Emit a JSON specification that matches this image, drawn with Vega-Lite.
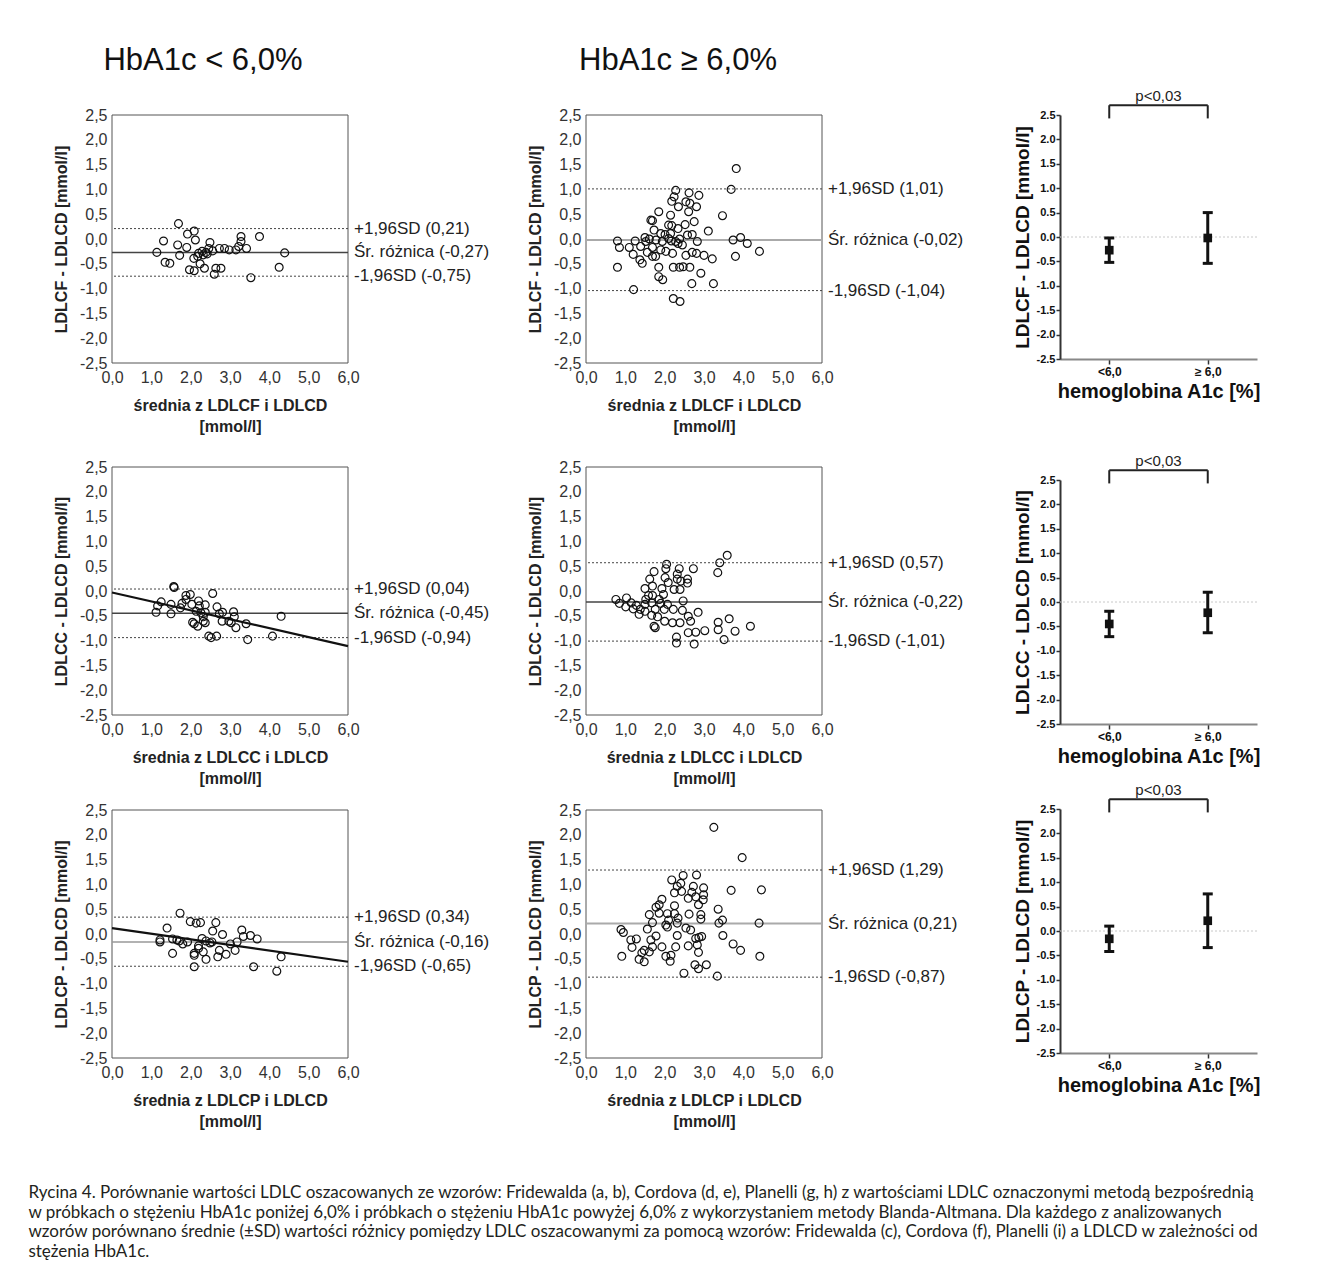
{
"$schema": "https://vega.github.io/schema/vega-lite/v6.json",
"background": "white",
"autosize": {"type": "pad"},
"padding": {"left": 28, "top": 45, "right": 5, "bottom": 5},
"config": {"view": {"stroke": null}, "font": "Liberation Sans", "axis": {"labelOverlap": false}},
"title": {"text": ["Rycina 4. Porównanie wartości LDLC oszacowanych ze wzorów: Fridewalda (a, b), Cordova (d, e), Planelli (g, h) z wartościami LDLC oznaczonymi metodą bezpośrednią", "w próbkach o stężeniu HbA1c poniżej 6,0% i próbkach o stężeniu HbA1c powyżej 6,0% z wykorzystaniem metody Blanda-Altmana. Dla każdego z analizowanych", "wzorów porównano średnie (±SD) wartości różnicy pomiędzy LDLC oszacowanymi za pomocą wzorów: Fridewalda (c), Cordova (f), Planelli (i) a LDLCD w zależności od", "stężenia HbA1c."], "orient": "bottom", "anchor": "start", "frame": "bounds", "align": "left", "baseline": "top", "dx": -25, "offset": 56, "font": "Lato", "fontSize": 17, "fontWeight": "normal", "color": "#231f20", "lineHeight": 19.5},
"datasets": {
"a_pts": [{"m":1.69,"d":0.31},{"m":2.09,"d":0.16},{"m":1.92,"d":0.10},{"m":1.31,"d":-0.04},{"m":1.67,"d":-0.12},{"m":1.90,"d":-0.17},{"m":2.12,"d":-0.02},{"m":1.14,"d":-0.27},{"m":1.35,"d":-0.47},{"m":1.47,"d":-0.49},{"m":1.72,"d":-0.33},{"m":2.08,"d":-0.39},{"m":2.20,"d":-0.29},{"m":2.29,"d":-0.25},{"m":2.39,"d":-0.27},{"m":2.49,"d":-0.07},{"m":2.46,"d":-0.19},{"m":2.56,"d":-0.24},{"m":2.24,"d":-0.50},{"m":1.97,"d":-0.62},{"m":2.09,"d":-0.64},{"m":2.35,"d":-0.59},{"m":2.60,"d":-0.71},{"m":2.64,"d":-0.59},{"m":2.77,"d":-0.59},{"m":2.73,"d":-0.19},{"m":2.86,"d":-0.19},{"m":2.98,"d":-0.22},{"m":3.15,"d":-0.22},{"m":3.22,"d":-0.15},{"m":3.28,"d":0.05},{"m":3.28,"d":-0.05},{"m":3.42,"d":-0.19},{"m":3.75,"d":0.05},{"m":3.53,"d":-0.78},{"m":4.25,"d":-0.57},{"m":4.39,"d":-0.28},{"m":2.32,"d":-0.32},{"m":2.18,"d":-0.35},{"m":2.42,"d":-0.30}],
"b_pts": [{"m":0.80,"d":-0.04},{"m":0.85,"d":-0.17},{"m":0.80,"d":-0.57},{"m":1.10,"d":-0.17},{"m":1.20,"d":-0.31},{"m":1.21,"d":-1.02},{"m":1.25,"d":-0.04},{"m":1.37,"d":-0.42},{"m":1.39,"d":-0.15},{"m":1.43,"d":-0.49},{"m":1.50,"d":0.03},{"m":1.52,"d":-0.05},{"m":1.56,"d":-0.27},{"m":1.61,"d":0.0},{"m":1.65,"d":0.38},{"m":1.69,"d":0.37},{"m":1.69,"d":-0.17},{"m":1.69,"d":-0.35},{"m":1.73,"d":0.18},{"m":1.77,"d":-0.35},{"m":1.78,"d":-0.02},{"m":1.85,"d":0.55},{"m":1.85,"d":-0.57},{"m":1.85,"d":-0.76},{"m":1.90,"d":0.11},{"m":1.90,"d":-0.22},{"m":1.94,"d":-0.05},{"m":1.95,"d":-0.82},{"m":2.01,"d":0.09},{"m":2.03,"d":-0.25},{"m":2.10,"d":0.28},{"m":2.10,"d":0.01},{"m":2.15,"d":0.48},{"m":2.15,"d":0.11},{"m":2.17,"d":-0.04},{"m":2.18,"d":0.76},{"m":2.18,"d":0.27},{"m":2.20,"d":-0.29},{"m":2.22,"d":-0.57},{"m":2.22,"d":-1.20},{"m":2.24,"d":0.85},{"m":2.28,"d":0.98},{"m":2.28,"d":-0.05},{"m":2.34,"d":0.21},{"m":2.34,"d":-0.09},{"m":2.35,"d":0.65},{"m":2.38,"d":0.0},{"m":2.38,"d":-0.57},{"m":2.39,"d":-1.26},{"m":2.45,"d":-0.12},{"m":2.47,"d":-0.56},{"m":2.52,"d":0.29},{"m":2.54,"d":0.75},{"m":2.54,"d":-0.33},{"m":2.58,"d":0.08},{"m":2.61,"d":0.55},{"m":2.62,"d":0.93},{"m":2.64,"d":0.72},{"m":2.64,"d":-0.57},{"m":2.69,"d":-0.90},{"m":2.70,"d":0.09},{"m":2.70,"d":-0.27},{"m":2.75,"d":0.35},{"m":2.81,"d":0.65},{"m":2.81,"d":-0.29},{"m":2.83,"d":-0.05},{"m":2.87,"d":0.88},{"m":2.92,"d":-0.69},{"m":3.00,"d":-0.33},{"m":3.11,"d":0.16},{"m":3.21,"d":-0.40},{"m":3.24,"d":-0.90},{"m":3.47,"d":0.47},{"m":3.69,"d":1.00},{"m":3.74,"d":-0.02},{"m":3.80,"d":-0.35},{"m":3.82,"d":1.42},{"m":3.93,"d":0.03},{"m":4.10,"d":-0.09},{"m":4.41,"d":-0.25}],
"d_pts": [{"m":1.57,"d":0.09},{"m":1.58,"d":0.07},{"m":1.99,"d":-0.07},{"m":1.88,"d":-0.09},{"m":2.56,"d":-0.05},{"m":2.20,"d":-0.20},{"m":1.25,"d":-0.22},{"m":1.50,"d":-0.27},{"m":1.78,"d":-0.25},{"m":2.03,"d":-0.27},{"m":2.37,"d":-0.28},{"m":2.67,"d":-0.32},{"m":1.16,"d":-0.30},{"m":1.12,"d":-0.43},{"m":1.50,"d":-0.46},{"m":1.74,"d":-0.34},{"m":1.88,"d":-0.17},{"m":2.14,"d":-0.41},{"m":2.26,"d":-0.44},{"m":2.37,"d":-0.43},{"m":2.32,"d":-0.52},{"m":2.73,"d":-0.46},{"m":2.81,"d":-0.43},{"m":3.09,"d":-0.42},{"m":3.11,"d":-0.52},{"m":2.97,"d":-0.61},{"m":3.03,"d":-0.64},{"m":2.05,"d":-0.63},{"m":2.09,"d":-0.66},{"m":2.18,"d":-0.71},{"m":2.32,"d":-0.61},{"m":2.37,"d":-0.64},{"m":2.80,"d":-0.61},{"m":3.15,"d":-0.74},{"m":3.41,"d":-0.66},{"m":2.46,"d":-0.91},{"m":2.52,"d":-0.94},{"m":2.66,"d":-0.91},{"m":3.45,"d":-0.98},{"m":4.08,"d":-0.91},{"m":4.30,"d":-0.51},{"m":2.22,"d":-0.30}],
"e_pts": [{"m":3.59,"d":0.72},{"m":3.40,"d":0.57},{"m":3.35,"d":0.37},{"m":2.05,"d":0.54},{"m":2.03,"d":0.45},{"m":2.37,"d":0.45},{"m":2.73,"d":0.45},{"m":1.73,"d":0.39},{"m":2.32,"d":0.34},{"m":2.01,"d":0.27},{"m":1.62,"d":0.24},{"m":2.32,"d":0.24},{"m":2.58,"d":0.24},{"m":2.41,"d":0.20},{"m":2.58,"d":0.16},{"m":2.09,"d":0.17},{"m":1.50,"d":0.05},{"m":1.93,"d":0.05},{"m":1.69,"d":0.10},{"m":2.24,"d":0.03},{"m":2.39,"d":0.03},{"m":1.59,"d":-0.09},{"m":1.97,"d":-0.07},{"m":0.76,"d":-0.17},{"m":1.03,"d":-0.14},{"m":0.85,"d":-0.25},{"m":1.15,"d":-0.24},{"m":1.28,"d":-0.29},{"m":1.50,"d":-0.27},{"m":1.67,"d":-0.24},{"m":1.90,"d":-0.25},{"m":2.07,"d":-0.27},{"m":2.47,"d":-0.20},{"m":1.01,"d":-0.32},{"m":1.20,"d":-0.36},{"m":1.38,"d":-0.37},{"m":1.50,"d":-0.41},{"m":1.76,"d":-0.37},{"m":1.99,"d":-0.37},{"m":2.22,"d":-0.37},{"m":2.45,"d":-0.39},{"m":2.85,"d":-0.43},{"m":1.35,"d":-0.47},{"m":1.67,"d":-0.49},{"m":1.82,"d":-0.52},{"m":2.00,"d":-0.61},{"m":2.20,"d":-0.64},{"m":2.60,"d":-0.51},{"m":2.66,"d":-0.61},{"m":2.39,"d":-0.64},{"m":1.73,"d":-0.71},{"m":1.76,"d":-0.74},{"m":2.60,"d":-0.84},{"m":2.79,"d":-0.83},{"m":3.02,"d":-0.80},{"m":3.36,"d":-0.63},{"m":3.36,"d":-0.78},{"m":3.64,"d":-0.56},{"m":3.79,"d":-0.81},{"m":4.18,"d":-0.71},{"m":3.51,"d":-0.98},{"m":2.30,"d":-0.93},{"m":2.30,"d":-1.05},{"m":2.75,"d":-1.07},{"m":1.52,"d":-0.17},{"m":1.86,"d":-0.17},{"m":1.69,"d":-0.09}],
"g_pts": [{"m":1.73,"d":0.42},{"m":1.99,"d":0.25},{"m":2.14,"d":0.22},{"m":2.25,"d":0.23},{"m":2.64,"d":0.23},{"m":1.40,"d":0.12},{"m":2.56,"d":0.06},{"m":2.81,"d":-0.01},{"m":3.30,"d":0.08},{"m":3.34,"d":-0.05},{"m":3.52,"d":-0.03},{"m":3.69,"d":-0.10},{"m":1.22,"d":-0.12},{"m":1.22,"d":-0.16},{"m":1.54,"d":-0.10},{"m":1.65,"d":-0.12},{"m":1.71,"d":-0.14},{"m":1.80,"d":-0.20},{"m":1.92,"d":-0.16},{"m":2.29,"d":-0.09},{"m":2.39,"d":-0.14},{"m":2.49,"d":-0.18},{"m":2.54,"d":-0.16},{"m":2.20,"d":-0.24},{"m":2.32,"d":-0.36},{"m":2.09,"d":-0.39},{"m":2.09,"d":-0.43},{"m":1.54,"d":-0.39},{"m":2.39,"d":-0.51},{"m":2.69,"d":-0.46},{"m":2.73,"d":-0.33},{"m":2.90,"d":-0.41},{"m":3.01,"d":-0.20},{"m":3.13,"d":-0.33},{"m":3.18,"d":-0.16},{"m":2.09,"d":-0.66},{"m":3.60,"d":-0.66},{"m":4.19,"d":-0.75},{"m":4.30,"d":-0.46},{"m":2.20,"d":-0.29}],
"h_pts": [{"m":3.25,"d":2.15},{"m":3.97,"d":1.54},{"m":2.81,"d":1.19},{"m":2.47,"d":1.18},{"m":2.18,"d":1.09},{"m":2.41,"d":1.02},{"m":2.32,"d":0.96},{"m":2.73,"d":0.96},{"m":2.99,"d":0.93},{"m":3.69,"d":0.88},{"m":4.46,"d":0.89},{"m":2.25,"d":0.83},{"m":2.43,"d":0.86},{"m":2.69,"d":0.84},{"m":2.99,"d":0.79},{"m":2.60,"d":0.72},{"m":2.79,"d":0.75},{"m":1.93,"d":0.70},{"m":2.98,"d":0.69},{"m":2.86,"d":0.59},{"m":1.86,"d":0.59},{"m":2.25,"d":0.57},{"m":1.78,"d":0.54},{"m":3.36,"d":0.50},{"m":1.61,"d":0.39},{"m":1.86,"d":0.42},{"m":2.07,"d":0.41},{"m":2.25,"d":0.41},{"m":2.62,"d":0.40},{"m":2.92,"d":0.39},{"m":2.10,"d":0.28},{"m":2.34,"d":0.32},{"m":2.92,"d":0.30},{"m":3.47,"d":0.28},{"m":1.69,"d":0.23},{"m":2.03,"d":0.18},{"m":2.32,"d":0.22},{"m":3.38,"d":0.22},{"m":4.40,"d":0.22},{"m":1.56,"d":0.10},{"m":2.07,"d":0.14},{"m":2.54,"d":0.12},{"m":2.66,"d":0.08},{"m":0.89,"d":0.09},{"m":0.95,"d":0.03},{"m":2.32,"d":-0.03},{"m":2.87,"d":-0.07},{"m":2.94,"d":-0.05},{"m":3.48,"d":-0.03},{"m":1.14,"d":-0.12},{"m":1.28,"d":-0.10},{"m":1.65,"d":-0.12},{"m":1.78,"d":-0.04},{"m":2.79,"d":-0.09},{"m":1.17,"d":-0.27},{"m":1.69,"d":-0.26},{"m":1.93,"d":-0.26},{"m":2.28,"d":-0.26},{"m":2.60,"d":-0.24},{"m":2.83,"d":-0.22},{"m":3.74,"d":-0.20},{"m":3.93,"d":-0.33},{"m":1.48,"d":-0.33},{"m":1.42,"d":-0.38},{"m":1.61,"d":-0.36},{"m":1.35,"d":-0.51},{"m":1.48,"d":-0.56},{"m":2.03,"d":-0.45},{"m":2.16,"d":-0.43},{"m":0.91,"d":-0.45},{"m":2.14,"d":-0.55},{"m":2.86,"d":-0.37},{"m":4.42,"d":-0.45},{"m":2.77,"d":-0.62},{"m":2.86,"d":-0.70},{"m":3.06,"d":-0.62},{"m":2.49,"d":-0.79},{"m":3.34,"d":-0.85}],
"a_lines": [{"v":0.21,"k":"sd","lab":"+1,96SD (0,21)"},{"v":-0.27,"k":"mean","lab":"Śr. różnica (-0,27)"},{"v":-0.75,"k":"sd","lab":"-1,96SD (-0,75)"}],
"b_lines": [{"v":1.01,"k":"sd","lab":"+1,96SD (1,01)"},{"v":-0.02,"k":"mean","lab":"Śr. różnica (-0,02)"},{"v":-1.04,"k":"sd","lab":"-1,96SD (-1,04)"}],
"d_lines": [{"v":0.04,"k":"sd","lab":"+1,96SD (0,04)"},{"v":-0.45,"k":"mean","lab":"Śr. różnica (-0,45)"},{"v":-0.94,"k":"sd","lab":"-1,96SD (-0,94)"}],
"e_lines": [{"v":0.57,"k":"sd","lab":"+1,96SD (0,57)"},{"v":-0.22,"k":"mean","lab":"Śr. różnica (-0,22)"},{"v":-1.01,"k":"sd","lab":"-1,96SD (-1,01)"}],
"g_lines": [{"v":0.34,"k":"sd","lab":"+1,96SD (0,34)"},{"v":-0.16,"k":"mean","lab":"Śr. różnica (-0,16)"},{"v":-0.65,"k":"sd","lab":"-1,96SD (-0,65)"}],
"h_lines": [{"v":1.29,"k":"sd","lab":"+1,96SD (1,29)"},{"v":0.21,"k":"mean","lab":"Śr. różnica (0,21)"},{"v":-0.87,"k":"sd","lab":"-1,96SD (-0,87)"}],
"d_reg": [{"m":0,"d":-0.03},{"m":6,"d":-1.11}],
"g_reg": [{"m":0,"d":0.12},{"m":6,"d":-0.56}],
"c_err": [{"g":1,"mean":-0.27,"lo":-0.52,"hi":-0.02},{"g":2,"mean":-0.02,"lo":-0.54,"hi":0.50}],
"f_err": [{"g":1,"mean":-0.45,"lo":-0.71,"hi":-0.19},{"g":2,"mean":-0.22,"lo":-0.63,"hi":0.20}],
"i_err": [{"g":1,"mean":-0.16,"lo":-0.42,"hi":0.10},{"g":2,"mean":0.21,"lo":-0.34,"hi":0.76}],
"sig": [{"x1":1,"x2":2,"xm":1.5,"y":2.7,"yb":2.43,"t":"p<0,03"}],
"one": [{"o":1}]
},
"concat": [
{"width":236,"height":248,
 "title":{"text":"HbA1c < 6,0%","fontSize":31,"font":"Liberation Sans","fontWeight":"normal","color":"#111","anchor":"middle","frame":"group","dx":-27,"offset":6,"baseline":"alphabetic"},
 "layer":[
  {"data":{"name":"one"},"mark":{"type":"rect","fillOpacity":0,"stroke":"#555","strokeWidth":1},"encoding":{"x":{"datum":0,"type":"quantitative","scale":{"domain":[0,6],"nice":false,"zero":false},"axis":{"values":[0,1,2,3,4,5,6],"tickCount":7,"labelExpr":"replace(replace(format(datum.value,'.1f'),'.',','),'−','-')","domain":false,"ticks":false,"grid":false,"labelFontSize":16,"labelColor":"#333","labelPadding":6,"labelFlush":false,"labelOverlap":false,"title":["średnia z LDLCF i LDLCD","[mmol/l]"],"titleFontSize":16,"titleFontWeight":"bold","titleColor":"#222","titleLineHeight":21,"titlePadding":12,"offset":0}},"x2":{"datum":6},"y":{"datum":-2.5,"type":"quantitative","scale":{"domain":[-2.5,2.5],"nice":false,"zero":false,"range":[248,0]},"axis":{"values":[-2.5,-2,-1.5,-1,-0.5,0,0.5,1,1.5,2,2.5],"tickCount":11,"labelExpr":"replace(replace(format(datum.value,'.1f'),'.',','),'−','-')","domain":false,"ticks":false,"grid":false,"labelFontSize":16,"labelColor":"#333","labelPadding":5,"labelFlush":false,"labelOverlap":false,"title":"LDLCF - LDLCD [mmol/l]","titleFontSize":16,"titleFontWeight":"bold","titleColor":"#222","titlePadding":10}},"y2":{"datum":2.5}}},
  {"data":{"name":"a_lines"},"transform":[{"filter":"datum.k == 'sd'"}],"mark":{"type":"rule","strokeDash":[2,2],"color":"#444","strokeWidth":1},"encoding":{"y":{"field":"v","type":"quantitative"}}},
  {"data":{"name":"a_lines"},"transform":[{"filter":"datum.k == 'mean'"}],"mark":{"type":"rule","color":"#444","strokeWidth":1.5},"encoding":{"y":{"field":"v","type":"quantitative"}}},
  {"data":{"name":"a_pts"},"mark":{"type":"point","shape":"circle","filled":false,"size":62,"strokeWidth":1.2,"color":"#111","opacity":1},"encoding":{"x":{"field":"m","type":"quantitative"},"y":{"field":"d","type":"quantitative"}}},
  {"data":{"name":"a_lines"},"mark":{"type":"text","align":"left","baseline":"middle","dx":6,"fontSize":17,"color":"#222"},"encoding":{"x":{"datum":6,"type":"quantitative"},"y":{"field":"v","type":"quantitative"},"text":{"field":"lab"}}}
 ]},
{"width":236,"height":248,
 "title":{"text":"HbA1c ≥ 6,0%","fontSize":31,"font":"Liberation Sans","fontWeight":"normal","color":"#111","anchor":"middle","frame":"group","dx":-26,"offset":6,"baseline":"alphabetic"},
 "layer":[
  {"data":{"name":"one"},"mark":{"type":"rect","fillOpacity":0,"stroke":"#555","strokeWidth":1},"encoding":{"x":{"datum":0,"type":"quantitative","scale":{"domain":[0,6],"nice":false,"zero":false},"axis":{"values":[0,1,2,3,4,5,6],"tickCount":7,"labelExpr":"replace(replace(format(datum.value,'.1f'),'.',','),'−','-')","domain":false,"ticks":false,"grid":false,"labelFontSize":16,"labelColor":"#333","labelPadding":6,"labelFlush":false,"labelOverlap":false,"title":["średnia z LDLCF i LDLCD","[mmol/l]"],"titleFontSize":16,"titleFontWeight":"bold","titleColor":"#222","titleLineHeight":21,"titlePadding":12,"offset":0}},"x2":{"datum":6},"y":{"datum":-2.5,"type":"quantitative","scale":{"domain":[-2.5,2.5],"nice":false,"zero":false,"range":[248,0]},"axis":{"values":[-2.5,-2,-1.5,-1,-0.5,0,0.5,1,1.5,2,2.5],"tickCount":11,"labelExpr":"replace(replace(format(datum.value,'.1f'),'.',','),'−','-')","domain":false,"ticks":false,"grid":false,"labelFontSize":16,"labelColor":"#333","labelPadding":5,"labelFlush":false,"labelOverlap":false,"title":"LDLCF - LDLCD [mmol/l]","titleFontSize":16,"titleFontWeight":"bold","titleColor":"#222","titlePadding":10}},"y2":{"datum":2.5}}},
  {"data":{"name":"b_lines"},"transform":[{"filter":"datum.k == 'sd'"}],"mark":{"type":"rule","strokeDash":[2,2],"color":"#444","strokeWidth":1},"encoding":{"y":{"field":"v","type":"quantitative"}}},
  {"data":{"name":"b_lines"},"transform":[{"filter":"datum.k == 'mean'"}],"mark":{"type":"rule","color":"#aaa","strokeWidth":2},"encoding":{"y":{"field":"v","type":"quantitative"}}},
  {"data":{"name":"b_pts"},"mark":{"type":"point","shape":"circle","filled":false,"size":62,"strokeWidth":1.2,"color":"#111","opacity":1},"encoding":{"x":{"field":"m","type":"quantitative"},"y":{"field":"d","type":"quantitative"}}},
  {"data":{"name":"b_lines"},"mark":{"type":"text","align":"left","baseline":"middle","dx":6,"fontSize":17,"color":"#222"},"encoding":{"x":{"datum":6,"type":"quantitative"},"y":{"field":"v","type":"quantitative"},"text":{"field":"lab"}}}
 ]},
{"width":197,"height":248,
 "layer":[
  {"data":{"name":"one"},"mark":{"type":"rule","color":"#c8c8c8","strokeDash":[2,2],"strokeWidth":1},"encoding":{"y":{"datum":0,"type":"quantitative"}}},
  {"data":{"name":"c_err"},"mark":{"type":"rule","strokeWidth":3,"color":"#111"},"encoding":{"x":{"field":"g","type":"quantitative","scale":{"domain":[0.5,2.5],"nice":false,"zero":false},"axis":{"values":[1,2],"tickCount":2,"labelExpr":"datum.value == 1 ? '<6,0' : '≥ 6,0'","domain":true,"domainColor":"#888","domainWidth":2,"ticks":true,"tickColor":"#333","tickSize":5,"tickWidth":1.5,"grid":false,"labelFontSize":12,"labelFontWeight":"bold","labelColor":"#111","labelPadding":2,"labelFlush":false,"labelOverlap":false,"title":"hemoglobina A1c [%]","titleFontSize":20,"titleFontWeight":"bold","titleColor":"#111","titlePadding":4,"offset":-4}},"y":{"field":"lo","type":"quantitative","scale":{"domain":[-2.5,2.5],"nice":false,"zero":false,"range":[244,0]},"axis":{"values":[-2.5,-2,-1.5,-1,-0.5,0,0.5,1,1.5,2,2.5],"tickCount":11,"labelExpr":"replace(format(datum.value,'.1f'),'−','-')","domain":true,"domainColor":"#333","domainWidth":2,"ticks":true,"tickColor":"#333","tickSize":4,"tickWidth":1.5,"grid":false,"labelFontSize":11,"labelFontWeight":"bold","labelColor":"#111","labelPadding":1,"labelFlush":false,"labelOverlap":false,"title":"LDLCF - LDLCD [mmol/l]","titleFontSize":19,"titleFontWeight":"bold","titleColor":"#111","titlePadding":4}},"y2":{"field":"hi"}}},
  {"data":{"name":"c_err"},"mark":{"type":"point","shape":"stroke","size":100,"strokeWidth":3,"color":"#111","filled":false,"opacity":1},"encoding":{"x":{"field":"g","type":"quantitative"},"y":{"field":"lo","type":"quantitative"}}},
  {"data":{"name":"c_err"},"mark":{"type":"point","shape":"stroke","size":100,"strokeWidth":3,"color":"#111","filled":false,"opacity":1},"encoding":{"x":{"field":"g","type":"quantitative"},"y":{"field":"hi","type":"quantitative"}}},
  {"data":{"name":"c_err"},"mark":{"type":"point","shape":"square","size":75,"filled":true,"color":"#111","opacity":1},"encoding":{"x":{"field":"g","type":"quantitative"},"y":{"field":"mean","type":"quantitative"}}},
  {"data":{"name":"sig"},"mark":{"type":"rule","strokeWidth":2,"color":"#222"},"encoding":{"x":{"field":"x1","type":"quantitative"},"x2":{"field":"x2"},"y":{"field":"y","type":"quantitative"}}},
  {"data":{"name":"sig"},"mark":{"type":"rule","strokeWidth":2,"color":"#222"},"encoding":{"x":{"field":"x1","type":"quantitative"},"y":{"field":"yb","type":"quantitative"},"y2":{"field":"y"}}},
  {"data":{"name":"sig"},"mark":{"type":"rule","strokeWidth":2,"color":"#222"},"encoding":{"x":{"field":"x2","type":"quantitative"},"y":{"field":"yb","type":"quantitative"},"y2":{"field":"y"}}},
  {"data":{"name":"sig"},"mark":{"type":"text","baseline":"bottom","dy":-1,"fontSize":15,"color":"#222"},"encoding":{"x":{"field":"xm","type":"quantitative"},"y":{"field":"y","type":"quantitative"},"text":{"field":"t"}}}
 ]},
{"width":236,"height":248,
 "layer":[
  {"data":{"name":"one"},"mark":{"type":"rect","fillOpacity":0,"stroke":"#555","strokeWidth":1},"encoding":{"x":{"datum":0,"type":"quantitative","scale":{"domain":[0,6],"nice":false,"zero":false},"axis":{"values":[0,1,2,3,4,5,6],"tickCount":7,"labelExpr":"replace(replace(format(datum.value,'.1f'),'.',','),'−','-')","domain":false,"ticks":false,"grid":false,"labelFontSize":16,"labelColor":"#333","labelPadding":6,"labelFlush":false,"labelOverlap":false,"title":["średnia z LDLCC i LDLCD","[mmol/l]"],"titleFontSize":16,"titleFontWeight":"bold","titleColor":"#222","titleLineHeight":21,"titlePadding":12,"offset":3}},"x2":{"datum":6},"y":{"datum":-2.5,"type":"quantitative","scale":{"domain":[-2.5,2.5],"nice":false,"zero":false,"range":[251,3]},"axis":{"values":[-2.5,-2,-1.5,-1,-0.5,0,0.5,1,1.5,2,2.5],"tickCount":11,"labelExpr":"replace(replace(format(datum.value,'.1f'),'.',','),'−','-')","domain":false,"ticks":false,"grid":false,"labelFontSize":16,"labelColor":"#333","labelPadding":5,"labelFlush":false,"labelOverlap":false,"title":"LDLCC - LDLCD [mmol/l]","titleFontSize":16,"titleFontWeight":"bold","titleColor":"#222","titlePadding":10}},"y2":{"datum":2.5}}},
  {"data":{"name":"d_lines"},"transform":[{"filter":"datum.k == 'sd'"}],"mark":{"type":"rule","strokeDash":[2,2],"color":"#444","strokeWidth":1},"encoding":{"y":{"field":"v","type":"quantitative"}}},
  {"data":{"name":"d_lines"},"transform":[{"filter":"datum.k == 'mean'"}],"mark":{"type":"rule","color":"#444","strokeWidth":1.5},"encoding":{"y":{"field":"v","type":"quantitative"}}},
  {"data":{"name":"d_reg"},"mark":{"type":"line","color":"#111","strokeWidth":2.2},"encoding":{"x":{"field":"m","type":"quantitative"},"y":{"field":"d","type":"quantitative"}}},
  {"data":{"name":"d_pts"},"mark":{"type":"point","shape":"circle","filled":false,"size":62,"strokeWidth":1.2,"color":"#111","opacity":1},"encoding":{"x":{"field":"m","type":"quantitative"},"y":{"field":"d","type":"quantitative"}}},
  {"data":{"name":"d_lines"},"mark":{"type":"text","align":"left","baseline":"middle","dx":6,"fontSize":17,"color":"#222"},"encoding":{"x":{"datum":6,"type":"quantitative"},"y":{"field":"v","type":"quantitative"},"text":{"field":"lab"}}}
 ]},
{"width":236,"height":248,
 "layer":[
  {"data":{"name":"one"},"mark":{"type":"rect","fillOpacity":0,"stroke":"#555","strokeWidth":1},"encoding":{"x":{"datum":0,"type":"quantitative","scale":{"domain":[0,6],"nice":false,"zero":false},"axis":{"values":[0,1,2,3,4,5,6],"tickCount":7,"labelExpr":"replace(replace(format(datum.value,'.1f'),'.',','),'−','-')","domain":false,"ticks":false,"grid":false,"labelFontSize":16,"labelColor":"#333","labelPadding":6,"labelFlush":false,"labelOverlap":false,"title":["średnia z LDLCC i LDLCD","[mmol/l]"],"titleFontSize":16,"titleFontWeight":"bold","titleColor":"#222","titleLineHeight":21,"titlePadding":12,"offset":3}},"x2":{"datum":6},"y":{"datum":-2.5,"type":"quantitative","scale":{"domain":[-2.5,2.5],"nice":false,"zero":false,"range":[251,3]},"axis":{"values":[-2.5,-2,-1.5,-1,-0.5,0,0.5,1,1.5,2,2.5],"tickCount":11,"labelExpr":"replace(replace(format(datum.value,'.1f'),'.',','),'−','-')","domain":false,"ticks":false,"grid":false,"labelFontSize":16,"labelColor":"#333","labelPadding":5,"labelFlush":false,"labelOverlap":false,"title":"LDLCC - LDLCD [mmol/l]","titleFontSize":16,"titleFontWeight":"bold","titleColor":"#222","titlePadding":10}},"y2":{"datum":2.5}}},
  {"data":{"name":"e_lines"},"transform":[{"filter":"datum.k == 'sd'"}],"mark":{"type":"rule","strokeDash":[2,2],"color":"#444","strokeWidth":1},"encoding":{"y":{"field":"v","type":"quantitative"}}},
  {"data":{"name":"e_lines"},"transform":[{"filter":"datum.k == 'mean'"}],"mark":{"type":"rule","color":"#444","strokeWidth":1.5},"encoding":{"y":{"field":"v","type":"quantitative"}}},
  {"data":{"name":"e_pts"},"mark":{"type":"point","shape":"circle","filled":false,"size":62,"strokeWidth":1.2,"color":"#111","opacity":1},"encoding":{"x":{"field":"m","type":"quantitative"},"y":{"field":"d","type":"quantitative"}}},
  {"data":{"name":"e_lines"},"mark":{"type":"text","align":"left","baseline":"middle","dx":6,"fontSize":17,"color":"#222"},"encoding":{"x":{"datum":6,"type":"quantitative"},"y":{"field":"v","type":"quantitative"},"text":{"field":"lab"}}}
 ]},
{"width":197,"height":248,
 "layer":[
  {"data":{"name":"one"},"mark":{"type":"rule","color":"#c8c8c8","strokeDash":[2,2],"strokeWidth":1},"encoding":{"y":{"datum":0,"type":"quantitative"}}},
  {"data":{"name":"f_err"},"mark":{"type":"rule","strokeWidth":3,"color":"#111"},"encoding":{"x":{"field":"g","type":"quantitative","scale":{"domain":[0.5,2.5],"nice":false,"zero":false},"axis":{"values":[1,2],"tickCount":2,"labelExpr":"datum.value == 1 ? '<6,0' : '≥ 6,0'","domain":true,"domainColor":"#888","domainWidth":2,"ticks":true,"tickColor":"#333","tickSize":5,"tickWidth":1.5,"grid":false,"labelFontSize":12,"labelFontWeight":"bold","labelColor":"#111","labelPadding":2,"labelFlush":false,"labelOverlap":false,"title":"hemoglobina A1c [%]","titleFontSize":20,"titleFontWeight":"bold","titleColor":"#111","titlePadding":4,"offset":12}},"y":{"field":"lo","type":"quantitative","scale":{"domain":[-2.5,2.5],"nice":false,"zero":false,"range":[260,16]},"axis":{"values":[-2.5,-2,-1.5,-1,-0.5,0,0.5,1,1.5,2,2.5],"tickCount":11,"labelExpr":"replace(format(datum.value,'.1f'),'−','-')","domain":true,"domainColor":"#333","domainWidth":2,"ticks":true,"tickColor":"#333","tickSize":4,"tickWidth":1.5,"grid":false,"labelFontSize":11,"labelFontWeight":"bold","labelColor":"#111","labelPadding":1,"labelFlush":false,"labelOverlap":false,"title":"LDLCC - LDLCD [mmol/l]","titleFontSize":19,"titleFontWeight":"bold","titleColor":"#111","titlePadding":4}},"y2":{"field":"hi"}}},
  {"data":{"name":"f_err"},"mark":{"type":"point","shape":"stroke","size":100,"strokeWidth":3,"color":"#111","filled":false,"opacity":1},"encoding":{"x":{"field":"g","type":"quantitative"},"y":{"field":"lo","type":"quantitative"}}},
  {"data":{"name":"f_err"},"mark":{"type":"point","shape":"stroke","size":100,"strokeWidth":3,"color":"#111","filled":false,"opacity":1},"encoding":{"x":{"field":"g","type":"quantitative"},"y":{"field":"hi","type":"quantitative"}}},
  {"data":{"name":"f_err"},"mark":{"type":"point","shape":"square","size":75,"filled":true,"color":"#111","opacity":1},"encoding":{"x":{"field":"g","type":"quantitative"},"y":{"field":"mean","type":"quantitative"}}},
  {"data":{"name":"sig"},"mark":{"type":"rule","strokeWidth":2,"color":"#222"},"encoding":{"x":{"field":"x1","type":"quantitative"},"x2":{"field":"x2"},"y":{"field":"y","type":"quantitative"}}},
  {"data":{"name":"sig"},"mark":{"type":"rule","strokeWidth":2,"color":"#222"},"encoding":{"x":{"field":"x1","type":"quantitative"},"y":{"field":"yb","type":"quantitative"},"y2":{"field":"y"}}},
  {"data":{"name":"sig"},"mark":{"type":"rule","strokeWidth":2,"color":"#222"},"encoding":{"x":{"field":"x2","type":"quantitative"},"y":{"field":"yb","type":"quantitative"},"y2":{"field":"y"}}},
  {"data":{"name":"sig"},"mark":{"type":"text","baseline":"bottom","dy":-1,"fontSize":15,"color":"#222"},"encoding":{"x":{"field":"xm","type":"quantitative"},"y":{"field":"y","type":"quantitative"},"text":{"field":"t"}}}
 ]},
{"width":236,"height":248,
 "layer":[
  {"data":{"name":"one"},"mark":{"type":"rect","fillOpacity":0,"stroke":"#555","strokeWidth":1},"encoding":{"x":{"datum":0,"type":"quantitative","scale":{"domain":[0,6],"nice":false,"zero":false},"axis":{"values":[0,1,2,3,4,5,6],"tickCount":7,"labelExpr":"replace(replace(format(datum.value,'.1f'),'.',','),'−','-')","domain":false,"ticks":false,"grid":false,"labelFontSize":16,"labelColor":"#333","labelPadding":6,"labelFlush":false,"labelOverlap":false,"title":["średnia z LDLCP i LDLCD","[mmol/l]"],"titleFontSize":16,"titleFontWeight":"bold","titleColor":"#222","titleLineHeight":21,"titlePadding":12,"offset":-3}},"x2":{"datum":6},"y":{"datum":-2.5,"type":"quantitative","scale":{"domain":[-2.5,2.5],"nice":false,"zero":false,"range":[245,-3]},"axis":{"values":[-2.5,-2,-1.5,-1,-0.5,0,0.5,1,1.5,2,2.5],"tickCount":11,"labelExpr":"replace(replace(format(datum.value,'.1f'),'.',','),'−','-')","domain":false,"ticks":false,"grid":false,"labelFontSize":16,"labelColor":"#333","labelPadding":5,"labelFlush":false,"labelOverlap":false,"title":"LDLCP - LDLCD [mmol/l]","titleFontSize":16,"titleFontWeight":"bold","titleColor":"#222","titlePadding":10}},"y2":{"datum":2.5}}},
  {"data":{"name":"g_lines"},"transform":[{"filter":"datum.k == 'sd'"}],"mark":{"type":"rule","strokeDash":[2,2],"color":"#444","strokeWidth":1},"encoding":{"y":{"field":"v","type":"quantitative"}}},
  {"data":{"name":"g_lines"},"transform":[{"filter":"datum.k == 'mean'"}],"mark":{"type":"rule","color":"#999","strokeWidth":1.5},"encoding":{"y":{"field":"v","type":"quantitative"}}},
  {"data":{"name":"g_reg"},"mark":{"type":"line","color":"#111","strokeWidth":2.2},"encoding":{"x":{"field":"m","type":"quantitative"},"y":{"field":"d","type":"quantitative"}}},
  {"data":{"name":"g_pts"},"mark":{"type":"point","shape":"circle","filled":false,"size":62,"strokeWidth":1.2,"color":"#111","opacity":1},"encoding":{"x":{"field":"m","type":"quantitative"},"y":{"field":"d","type":"quantitative"}}},
  {"data":{"name":"g_lines"},"mark":{"type":"text","align":"left","baseline":"middle","dx":6,"fontSize":17,"color":"#222"},"encoding":{"x":{"datum":6,"type":"quantitative"},"y":{"field":"v","type":"quantitative"},"text":{"field":"lab"}}}
 ]},
{"width":236,"height":248,
 "layer":[
  {"data":{"name":"one"},"mark":{"type":"rect","fillOpacity":0,"stroke":"#555","strokeWidth":1},"encoding":{"x":{"datum":0,"type":"quantitative","scale":{"domain":[0,6],"nice":false,"zero":false},"axis":{"values":[0,1,2,3,4,5,6],"tickCount":7,"labelExpr":"replace(replace(format(datum.value,'.1f'),'.',','),'−','-')","domain":false,"ticks":false,"grid":false,"labelFontSize":16,"labelColor":"#333","labelPadding":6,"labelFlush":false,"labelOverlap":false,"title":["średnia z LDLCP i LDLCD","[mmol/l]"],"titleFontSize":16,"titleFontWeight":"bold","titleColor":"#222","titleLineHeight":21,"titlePadding":12,"offset":-3}},"x2":{"datum":6},"y":{"datum":-2.5,"type":"quantitative","scale":{"domain":[-2.5,2.5],"nice":false,"zero":false,"range":[245,-3]},"axis":{"values":[-2.5,-2,-1.5,-1,-0.5,0,0.5,1,1.5,2,2.5],"tickCount":11,"labelExpr":"replace(replace(format(datum.value,'.1f'),'.',','),'−','-')","domain":false,"ticks":false,"grid":false,"labelFontSize":16,"labelColor":"#333","labelPadding":5,"labelFlush":false,"labelOverlap":false,"title":"LDLCP - LDLCD [mmol/l]","titleFontSize":16,"titleFontWeight":"bold","titleColor":"#222","titlePadding":10}},"y2":{"datum":2.5}}},
  {"data":{"name":"h_lines"},"transform":[{"filter":"datum.k == 'sd'"}],"mark":{"type":"rule","strokeDash":[2,2],"color":"#444","strokeWidth":1},"encoding":{"y":{"field":"v","type":"quantitative"}}},
  {"data":{"name":"h_lines"},"transform":[{"filter":"datum.k == 'mean'"}],"mark":{"type":"rule","color":"#aaa","strokeWidth":2},"encoding":{"y":{"field":"v","type":"quantitative"}}},
  {"data":{"name":"h_pts"},"mark":{"type":"point","shape":"circle","filled":false,"size":62,"strokeWidth":1.2,"color":"#111","opacity":1},"encoding":{"x":{"field":"m","type":"quantitative"},"y":{"field":"d","type":"quantitative"}}},
  {"data":{"name":"h_lines"},"mark":{"type":"text","align":"left","baseline":"middle","dx":6,"fontSize":17,"color":"#222"},"encoding":{"x":{"datum":6,"type":"quantitative"},"y":{"field":"v","type":"quantitative"},"text":{"field":"lab"}}}
 ]},
{"width":197,"height":248,
 "layer":[
  {"data":{"name":"one"},"mark":{"type":"rule","color":"#c8c8c8","strokeDash":[2,2],"strokeWidth":1},"encoding":{"y":{"datum":0,"type":"quantitative"}}},
  {"data":{"name":"i_err"},"mark":{"type":"rule","strokeWidth":3,"color":"#111"},"encoding":{"x":{"field":"g","type":"quantitative","scale":{"domain":[0.5,2.5],"nice":false,"zero":false},"axis":{"values":[1,2],"tickCount":2,"labelExpr":"datum.value == 1 ? '<6,0' : '≥ 6,0'","domain":true,"domainColor":"#888","domainWidth":2,"ticks":true,"tickColor":"#333","tickSize":5,"tickWidth":1.5,"grid":false,"labelFontSize":12,"labelFontWeight":"bold","labelColor":"#111","labelPadding":2,"labelFlush":false,"labelOverlap":false,"title":"hemoglobina A1c [%]","titleFontSize":20,"titleFontWeight":"bold","titleColor":"#111","titlePadding":4,"offset":-8}},"y":{"field":"lo","type":"quantitative","scale":{"domain":[-2.5,2.5],"nice":false,"zero":false,"range":[240,-4]},"axis":{"values":[-2.5,-2,-1.5,-1,-0.5,0,0.5,1,1.5,2,2.5],"tickCount":11,"labelExpr":"replace(format(datum.value,'.1f'),'−','-')","domain":true,"domainColor":"#333","domainWidth":2,"ticks":true,"tickColor":"#333","tickSize":4,"tickWidth":1.5,"grid":false,"labelFontSize":11,"labelFontWeight":"bold","labelColor":"#111","labelPadding":1,"labelFlush":false,"labelOverlap":false,"title":"LDLCP - LDLCD [mmol/l]","titleFontSize":19,"titleFontWeight":"bold","titleColor":"#111","titlePadding":4}},"y2":{"field":"hi"}}},
  {"data":{"name":"i_err"},"mark":{"type":"point","shape":"stroke","size":100,"strokeWidth":3,"color":"#111","filled":false,"opacity":1},"encoding":{"x":{"field":"g","type":"quantitative"},"y":{"field":"lo","type":"quantitative"}}},
  {"data":{"name":"i_err"},"mark":{"type":"point","shape":"stroke","size":100,"strokeWidth":3,"color":"#111","filled":false,"opacity":1},"encoding":{"x":{"field":"g","type":"quantitative"},"y":{"field":"hi","type":"quantitative"}}},
  {"data":{"name":"i_err"},"mark":{"type":"point","shape":"square","size":75,"filled":true,"color":"#111","opacity":1},"encoding":{"x":{"field":"g","type":"quantitative"},"y":{"field":"mean","type":"quantitative"}}},
  {"data":{"name":"sig"},"mark":{"type":"rule","strokeWidth":2,"color":"#222"},"encoding":{"x":{"field":"x1","type":"quantitative"},"x2":{"field":"x2"},"y":{"field":"y","type":"quantitative"}}},
  {"data":{"name":"sig"},"mark":{"type":"rule","strokeWidth":2,"color":"#222"},"encoding":{"x":{"field":"x1","type":"quantitative"},"y":{"field":"yb","type":"quantitative"},"y2":{"field":"y"}}},
  {"data":{"name":"sig"},"mark":{"type":"rule","strokeWidth":2,"color":"#222"},"encoding":{"x":{"field":"x2","type":"quantitative"},"y":{"field":"yb","type":"quantitative"},"y2":{"field":"y"}}},
  {"data":{"name":"sig"},"mark":{"type":"text","baseline":"bottom","dy":-1,"fontSize":15,"color":"#222"},"encoding":{"x":{"field":"xm","type":"quantitative"},"y":{"field":"y","type":"quantitative"},"text":{"field":"t"}}}
 ]}
],
"columns": 3,
"spacing": {"row": 101, "column": 238},
"bounds": "flush",
"align": "all"
}
